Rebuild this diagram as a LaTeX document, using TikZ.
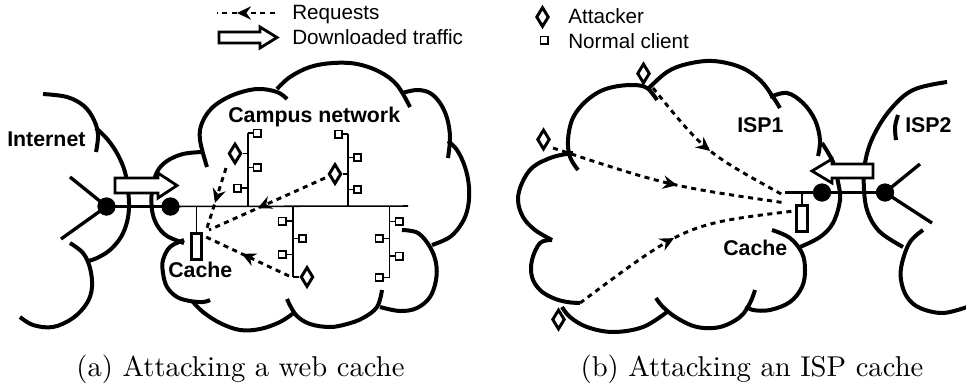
\documentclass[tikz,border=0pt]{standalone}
\usepackage{fontspec}
\newfontfamily\lblfont{Liberation Sans}
\usetikzlibrary{arrows.meta,decorations.markings,shapes.geometric}

\tikzset{
  reqtip/.tip={Stealth[length=10.5pt,width=10pt,inset=3.5pt]},
  cloudarc/.style={line width=3pt},
  net/.style={line width=1.15pt},
  link/.style={line width=2.5pt},
  req/.style={line width=2.2pt, dash pattern=on 3.8pt off 3.4pt},
  midarrow/.style={postaction={decorate},
    decoration={markings, mark=at position #1 with {\arrow{reqtip}}}},
  client/.style={draw, rectangle, line width=1.15pt, minimum size=5.6pt,
    inner sep=0pt, fill=white},
  attacker/.style={draw, diamond, line width=2.2pt, minimum width=9.5pt,
    minimum height=15pt, inner sep=0pt, fill=white},
  cachebox/.style={draw, rectangle, line width=2.1pt, minimum width=7.8pt,
    minimum height=20pt, inner sep=0pt, fill=white},
  router/.style={circle, fill=black, minimum size=13.5pt, inner sep=0pt},
  flow/.style={line width=2.1pt, fill=white, line join=miter},
  lbl/.style={font=\lblfont\fontsize{15.5}{18}\selectfont, inner sep=0pt, anchor=base west},
  blbl/.style={font=\lblfont\bfseries\fontsize{16}{19}\selectfont, inner sep=0pt, anchor=base west},
  caption/.style={inner sep=0pt, anchor=base},
}

\begin{document}
\begin{tikzpicture}[x=0.75pt, y=-0.75pt]
\useasboundingbox (0,0) rectangle (966,386);

% ---------- legend ----------
\coordinate (lgReqA) at (275,13);
\coordinate (lgReqB) at (217,13);
\draw[req, midarrow=0.655] (lgReqA) -- (lgReqB);
\node[lbl] (lgReqT) at (292,19) {Requests};
\draw[flow] (219,32) -- (260,32) -- (260,27) -- (277,37.5) -- (260,48) -- (260,43) -- (219,43) -- cycle;
\node[lbl] (lgDlT) at (292,44) {Downloaded traffic};
\node[attacker] (lgAtk) at (542.5,17) {};
\node[lbl] (lgAtkT) at (568,23) {Attacker};
\node[client] (lgCli) at (544,40) {};
\node[lbl] (lgCliT) at (568,48) {Normal client};

% ---------- (a) Internet cloud ----------
\draw[cloudarc] plot[smooth, tension=0.6] coordinates {(43,94) (67,97) (84,106) (94,120) (98,135) (96,152)};
\draw[cloudarc] plot[smooth, tension=0.6] coordinates {(96,128) (108,140) (118,155) (125,172) (128,190) (129,207) (127,222) (121,237) (110,250) (97,258) (88,261)};
\draw[cloudarc] plot[smooth, tension=0.6] coordinates {(70,243) (83,253) (90,268) (92,287) (87,303) (73,318) (53,327) (33,325) (20,317)};

% ---------- (a) campus cloud ----------
\draw[cloudarc] plot[smooth, tension=0.6] coordinates {(202,152) (183,154) (167,161) (157,172) (152,190) (152,210) (157,225) (167,236) (184,243)};
\draw[cloudarc] plot[smooth, tension=0.6] coordinates {(207,167) (200,140) (202,123) (213,107) (233,95) (257,89) (277,92) (287,99)};
\draw[cloudarc] plot[smooth, tension=0.6] coordinates {(277,89) (290,77) (310,67) (333,63) (357,64) (380,72) (397,85) (410,107)};
\draw[cloudarc] plot[smooth, tension=0.6] coordinates {(402,93) (417,90) (430,93) (440,103) (447,118) (450,137) (448,158)};
\draw[cloudarc] plot[smooth, tension=0.6] coordinates {(448,141) (457,150) (465,167) (469,187) (468,207) (462,223) (450,237) (432,245)};
\draw[cloudarc] plot[smooth, tension=0.6] coordinates {(402,230) (418,233) (430,247) (436,263) (436,280) (430,297) (417,308) (400,311) (380,307)};
\draw[cloudarc] plot[smooth, tension=0.6] coordinates {(382,290) (377,307) (363,318) (347,324) (330,327) (310,324) (296,315) (287,299)};
\draw[cloudarc] plot[smooth, tension=0.6] coordinates {(295,312) (280,322) (260,329) (240,330) (220,323) (203,312) (193,302)};
\draw[cloudarc] plot[smooth, tension=0.6] coordinates {(184,240) (170,247) (163,260) (163,273) (167,287) (177,297) (190,301) (203,302) (210,300)};

% ---------- (a) network ----------
\node[router] (rtA) at (106.5,206.5) {};
\node[router] (rtB) at (170.5,206.5) {};
\coordinate (inUp) at (70,177);
\coordinate (inDn) at (61,239);
\coordinate (bbEnd) at (408,206);
\draw[link] (inUp) -- (rtA.center);
\draw[link] (inDn) -- (rtA.center);
\draw[link] (rtA.center) -- (rtB.center);
\draw[net] (rtB.center) -- (bbEnd);

% cache
\node[cachebox] (cacheL) at (196.5,246.5) {};
\draw[net] (cacheL.north) -- (cacheL.north |- bbEnd);

% branch A
\coordinate (jA) at (248,206);
\coordinate (tA) at (248,133);
\draw[net] (jA) -- (tA);
\node[client] (aa1) at (257,133) {};
\node[client] (aa2) at (257,167.5) {};
\node[client] (aa3) at (237.5,188) {};
\node[attacker] (atkA) at (235,153.5) {};
\foreach \n in {aa1,aa2,aa3,atkA} \draw[net] (\n) -- (\n -| jA);

% branch B
\coordinate (jB) at (348,206);
\coordinate (tB) at (348,134);
\draw[net] (jB) -- (tB);
\node[client] (bb1) at (338.5,134) {};
\node[client] (bb2) at (357.5,157.5) {};
\node[attacker] (atkB) at (335,174) {};
\node[client] (bb3) at (357.5,189.5) {};
\foreach \n in {bb1,bb2,bb3,atkB} \draw[net] (\n) -- (\n -| jB);

% branch C
\coordinate (jC) at (293,206);
\coordinate (tC) at (293,277);
\draw[net] (jC) -- (tC);
\node[client] (cc1) at (282,221) {};
\node[client] (cc2) at (302.5,238.5) {};
\node[client] (cc3) at (282,254.5) {};
\node[attacker] (atkC) at (307,277) {};
\foreach \n in {cc1,cc2,cc3,atkC} \draw[net] (\n) -- (\n -| jC);

% branch D
\coordinate (jD) at (389.5,206);
\coordinate (tD) at (389.5,277.5);
\draw[net] (jD) -- (tD);
\node[client] (dd1) at (399,221.5) {};
\node[client] (dd2) at (379,238.5) {};
\node[client] (dd3) at (399,256) {};
\node[client] (dd4) at (379,277.5) {};
\foreach \n in {dd1,dd2,dd3,dd4} \draw[net] (\n) -- (\n -| jD);

% downloaded traffic into the campus
\draw[flow] (115,178) -- (158,178) -- (158,173) -- (177,185.5) -- (158,198) -- (158,193) -- (115,193) -- cycle;
\node[router] at (rtA) {};
\node[router] at (rtB) {};

% requests towards the cache
\coordinate (sA) at (226,168);
\coordinate (eA) at (207,228);
\coordinate (sB) at (325,178);
\coordinate (eB) at (209,230);
\coordinate (sC) at (289,276);
\coordinate (eC) at (206,237);
\draw[req, midarrow=0.58] (sA) -- (eA);
\draw[req, midarrow=0.58] (sB) -- (eB);
\draw[req, midarrow=0.57] (sC) -- (eC);

% labels
\node[blbl] (lbInet) at (7,146) {Internet};
\node[blbl] (lbCampus) at (228,122) {Campus network};
\node[blbl] (lbCacheL) at (168,277) {Cache};

% ---------- (b) ISP1 cloud ----------
\draw[cloudarc] plot[smooth, tension=0.6] coordinates {(578,170) (570,157) (568,140) (572,120) (582,105) (597,93) (613,87) (633,85) (647,88) (657,100)};
\draw[cloudarc] plot[smooth, tension=0.6] coordinates {(648,89) (667,72) (687,64) (713,61) (740,67) (760,80) (773,97) (780,108)};
\draw[cloudarc] plot[smooth, tension=0.6] coordinates {(770,97) (787,93) (803,103) (815,120) (820,140) (818,156)};
\draw[cloudarc] plot[smooth, tension=0.6] coordinates {(822,143) (833,162) (838,182) (840,200) (833,223) (820,237) (800,247)};
\draw[cloudarc] plot[smooth, tension=0.6] coordinates {(772,230) (790,238) (802,253) (805,270) (802,287) (790,302) (770,310) (753,310) (746,306)};
\draw[cloudarc] plot[smooth, tension=0.6] coordinates {(755,290) (750,303) (740,317) (720,327) (697,327) (677,318) (663,307) (656,298)};
\draw[cloudarc] plot[smooth, tension=0.6] coordinates {(667,312) (643,327) (613,332) (587,327) (570,317) (562,307)};
\draw[cloudarc] plot[smooth, tension=0.6] coordinates {(552,240) (540,243) (532,260) (532,277) (540,290) (553,298) (567,302) (580,303)};
\draw[cloudarc] plot[smooth, tension=0.6] coordinates {(573,153) (553,157) (533,167) (522,183) (518,200) (523,217) (535,230) (552,240)};

% ---------- (b) ISP2 cloud ----------
\draw[cloudarc] plot[smooth, tension=0.6] coordinates {(947,82) (913,90) (890,110) (873,137) (865,163) (864,190) (868,213) (880,232) (903,247)};
\draw[cloudarc] plot[smooth, tension=0.6] coordinates {(898,115) (895,127) (896,140)};
\draw[cloudarc] plot[smooth, tension=0.6] coordinates {(923,230) (910,242) (902,263) (901,280) (907,297) (920,308) (943,313) (967,307)};

% ---------- (b) network ----------
\node[router] (rtC) at (822,192.5) {};
\node[router] (rtD) at (885,192.5) {};
\coordinate (isUp) at (920,164);
\coordinate (isDn) at (932,223);
\coordinate (lnR) at (785,192.5);
\draw[link] (rtD.center) -- (isUp);
\draw[link] (rtD.center) -- (isDn);
\draw[link] (rtC.center) -- (rtD.center);
\draw[line width=2pt] (lnR) -- (rtC.center);
\node[cachebox] (cacheR) at (802,218.5) {};
\draw[net] (cacheR.north) -- (cacheR.north |- lnR);

\draw[flow] (873,164) -- (832,164) -- (832,159) -- (812,171) -- (832,183) -- (832,178) -- (873,178) -- cycle;
\node[router] at (rtC) {};
\node[router] at (rtD) {};

% attackers outside ISP1
\node[attacker] (atk1) at (643.5,73.5) {};
\node[attacker] (atk2) at (543.5,139.5) {};
\node[attacker] (atk3) at (558.5,319.5) {};
\coordinate (s1) at (653,88);
\coordinate (e1) at (783,195);
\coordinate (s2) at (553,148);
\coordinate (e2) at (786,203);
\coordinate (s3) at (580,303);
\coordinate (e3) at (794,211);
\draw[req, midarrow=0.5] (s1) .. controls (705,152) .. (e1);
\draw[req, midarrow=0.54] (s2) .. controls (669,186) .. (e2);
\draw[req, midarrow=0.48] (s3) .. controls (686,224) .. (e3);

% labels
\node[blbl] (lbIsp1) at (737,132) {ISP1};
\node[blbl] (lbIsp2) at (905,132) {ISP2};
\node[blbl] (lbCacheR) at (723,255) {Cache};

% ---------- captions ----------
\node[caption] (capA) at (240.5,376) {\scalebox{2.15}{\normalsize (a) Attacking a web cache}};
\node[caption] (capB) at (752,376) {\scalebox{2.15}{\normalsize (b) Attacking an ISP cache}};
\end{tikzpicture}
\end{document}
